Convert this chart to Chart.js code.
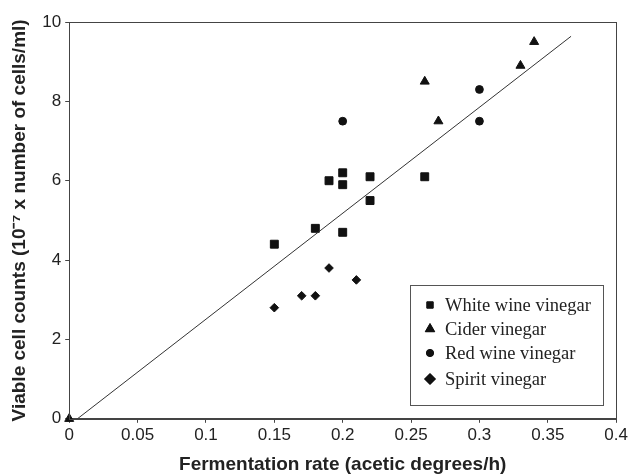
<!DOCTYPE html>
<html><head><meta charset="utf-8">
<script src="https://cdn.jsdelivr.net/npm/chart.js@4.4.0/dist/chart.umd.min.js"></script>
<style>html,body{margin:0;padding:0;background:#fff;} #wrap{width:630px;height:476px;position:relative;}</style>
</head><body><div id="wrap"><canvas id="c"></canvas></div>
<script>
const whiteWineX = [0.15, 0.18, 0.19, 0.20, 0.20, 0.20, 0.22, 0.22, 0.26];
const whiteWineY = [4.4, 4.8, 6.0, 6.2, 5.9, 4.7, 6.1, 5.5, 6.1];
const ciderX = [0, 0.26, 0.27, 0.33, 0.34];
const ciderY = [0, 8.5, 7.5, 8.9, 9.5];
const redWineX = [0.20, 0.30, 0.30];
const redWineY = [7.5, 8.3, 7.5];
const spiritX = [0.15, 0.17, 0.18, 0.19, 0.21];
const spiritY = [2.8, 3.1, 3.1, 3.8, 3.5];
const trendX = [0.006, 0.367];
const trendY = [0, 9.64];
const xTicks = [0, 0.05, 0.1, 0.15, 0.2, 0.25, 0.3, 0.35, 0.4];
const yTicks = [0, 2, 4, 6, 8, 10];
const seriesNames = ['White wine vinegar', 'Cider vinegar', 'Red wine vinegar', 'Spirit vinegar'];
const xTitle = 'Fermentation rate (acetic degrees/h)';
const yTitle = 'Viable cell counts (10\u207B\u2077 x number of cells/ml)';

const pts = (xs, ys) => xs.map((x, i) => ({x: x, y: ys[i]}));
const INK = '#111';
const SANS = '"Liberation Sans", Arial, sans-serif';

const legendPlugin = {
  id: 'innerLegend',
  afterDraw(chart) {
    const ctx = chart.ctx, a = chart.chartArea;
    ctx.save();
    ctx.strokeStyle = '#444';
    ctx.lineWidth = 1;
    ctx.strokeRect(Math.round(a.left) + 0.5, Math.round(a.top) + 0.5, Math.round(a.right - a.left), Math.round(a.bottom - a.top));
    const bx = Math.round(a.right - 206), by = Math.round(a.bottom - 134), bw = 193, bh = 120;
    ctx.fillStyle = '#fff';
    ctx.fillRect(bx, by, bw, bh);
    ctx.strokeStyle = '#555';
    ctx.strokeRect(bx + 0.5, by + 0.5, bw, bh);
    const rows = [20, 44, 68, 94];
    const styles = [{s: 'rect', r: 4.5}, {s: 'triangle', r: 5.5}, {s: 'circle', r: 3.6}, {s: 'rectRot', r: 5.5}];
    ctx.font = '18.5px "Liberation Serif", "Times New Roman", serif';
    ctx.textBaseline = 'middle';
    seriesNames.forEach((name, i) => {
      const y = by + rows[i];
      ctx.fillStyle = INK; ctx.strokeStyle = INK;
      Chart.helpers.drawPoint(ctx, {pointStyle: styles[i].s, radius: styles[i].r, rotation: 0, borderWidth: 1}, bx + 20, y);
      ctx.fill();
      ctx.fillStyle = '#222';
      ctx.fillText(name, bx + 35, y + 1);
    });
    ctx.restore();
  }
};

const mk = (label, xs, ys, style, r) => ({
  label: label, data: pts(xs, ys), showLine: false, pointStyle: style,
  pointRadius: r, pointHoverRadius: r, backgroundColor: INK, borderColor: INK,
  borderWidth: 1, clip: false
});

new Chart(document.getElementById('c'), {
  type: 'scatter',
  data: {
    datasets: [
      {label: 'trend', data: pts(trendX, trendY), showLine: true, pointRadius: 0, borderColor: '#333', borderWidth: 1, backgroundColor: '#333'},
      mk(seriesNames[0], whiteWineX, whiteWineY, 'rect', 5.6),
      mk(seriesNames[1], ciderX, ciderY, 'triangle', 5.2),
      mk(seriesNames[2], redWineX, redWineY, 'circle', 3.9),
      mk(seriesNames[3], spiritX, spiritY, 'rectRot', 4.3)
    ]
  },
  options: {
    responsive: true, maintainAspectRatio: false, animation: false, devicePixelRatio: 1,
    layout: {padding: {left: 0, right: 12, top: 22, bottom: 0}},
    plugins: {legend: {display: false}, tooltip: {enabled: false}},
    scales: {
      x: {
        type: 'linear', min: 0, max: 0.4,
        afterBuildTicks: ax => { ax.ticks = xTicks.map(v => ({value: v})); },
        ticks: {color: '#222', font: {family: SANS, size: 17}, padding: 2, maxRotation: 0, autoSkip: false,
          callback: v => String(+v.toFixed(2))},
        grid: {drawOnChartArea: false, drawTicks: true, tickLength: 4, color: '#444'},
        border: {display: true, color: '#444'},
        title: {display: true, text: xTitle, color: '#222', font: {family: SANS, size: 19, weight: 'bold'}, padding: {top: 6, bottom: 0}}
      },
      y: {
        type: 'linear', min: 0, max: 10,
        afterBuildTicks: ax => { ax.ticks = yTicks.map(v => ({value: v})); },
        ticks: {color: '#222', font: {family: SANS, size: 17}, padding: 4},
        grid: {drawOnChartArea: false, drawTicks: true, tickLength: 4, color: '#444'},
        border: {display: true, color: '#444'},
        title: {display: true, text: yTitle, color: '#222', font: {family: SANS, size: 19, weight: 'bold'}, padding: {top: 8, bottom: 7.5}}
      }
    }
  },
  plugins: [legendPlugin]
});
</script>
</body></html>
